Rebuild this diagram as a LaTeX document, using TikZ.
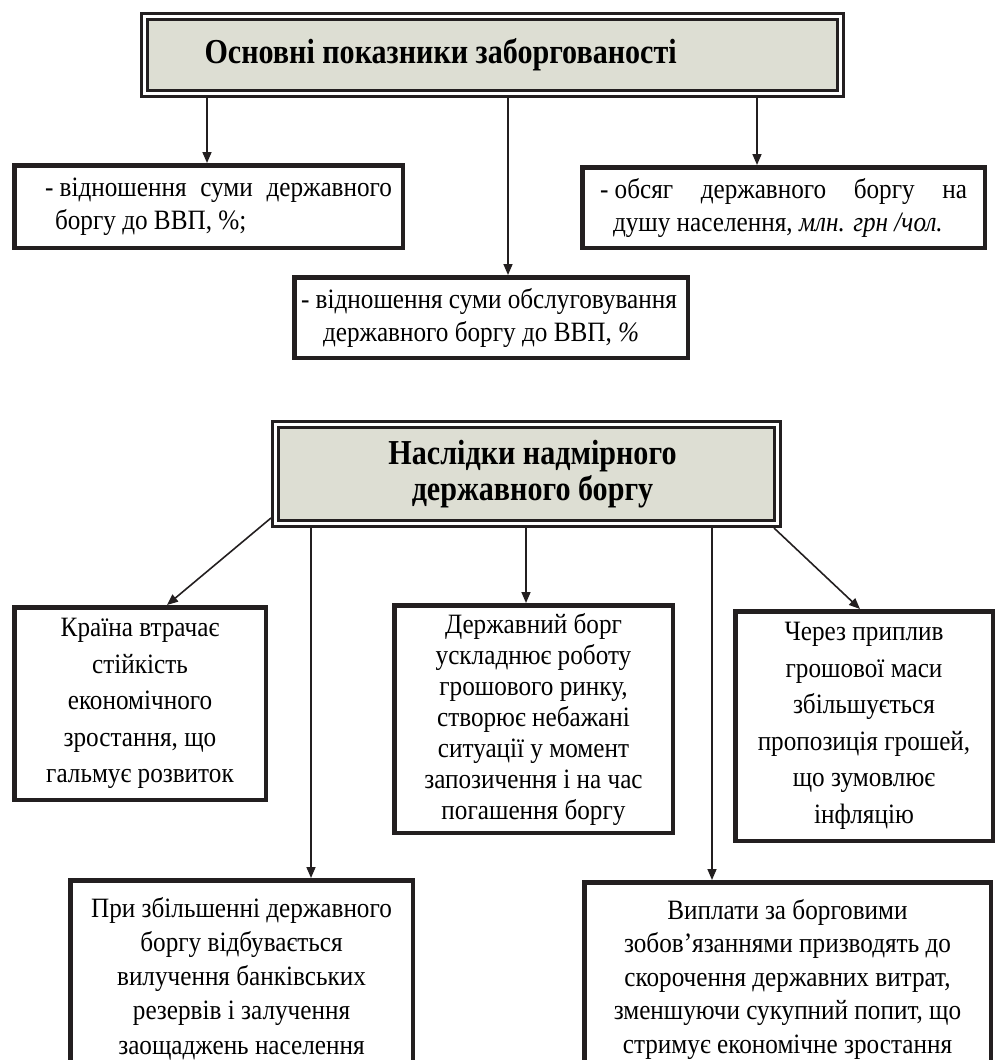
\documentclass[tikz,border=0pt]{standalone}
\usepackage{fontspec}
\setmainfont{Liberation Serif}[FakeStretch=0.9]
\newfontfamily\titlefont{Liberation Serif}[FakeStretch=0.86]
\usetikzlibrary{arrows.meta}
\definecolor{ink}{RGB}{35,31,32}
\definecolor{titlefill}{RGB}{221,222,211}
\begin{document}
\begin{tikzpicture}[x=1pt,y=-1pt,
  every node/.style={execute at begin node={\spaceskip=0pt\xspaceskip=0pt}},
  titlebox/.style={draw=ink, line width=3pt, double=white, double distance=3pt,
    fill=titlefill, outer sep=4.5pt, inner sep=0pt, anchor=north west,
    font=\titlefont\fontsize{35}{36}\selectfont\bfseries},
  box/.style={draw=ink, line width=4.5pt, fill=white, inner sep=0pt,
    anchor=north west, align=center},
  arr/.style={draw=ink, line width=1.6pt, -{Triangle[length=11pt,width=9pt]}}]
\path[use as bounding box, clip] (0,0) rectangle (999,1060);

% ---------- top part ----------
\node[titlebox, minimum width=696pt, minimum height=77pt, text width=656pt, align=left]
  (t1) at (140,12) {\hspace*{40pt}Основні показники заборгованості};

\node[box, minimum width=388.5pt, minimum height=82.5pt, text width=367pt, align=left,
  font=\fontsize{28}{33}\selectfont] (L1) at (12,163)
  {\hspace*{20pt}\makebox[347pt][l]{- відношення\hfill суми\hfill державного}\\
   \hspace*{30pt}боргу до ВВП, \%;};

\node[box, minimum width=402.5pt, minimum height=80.5pt, text width=367pt, align=left,
  font=\fontsize{28}{33}\selectfont] (R1) at (580,165)
  {\makebox[367pt][l]{- обсяг\hfill державного\hfill боргу\hfill на}\\
   \hspace*{13pt}душу населення, \textit{млн. грн /чол.}};

\node[box, minimum width=393.5pt, minimum height=80.5pt, text width=380pt, align=left,
  font=\fontsize{28}{33}\selectfont] (M1) at (292,275)
  {- відношення суми обслуговування\\
   \hspace*{22pt}державного боргу до ВВП, \textit{\%}};

\coordinate (xL1) at (207,0);
\coordinate (xM1) at (508,0);
\coordinate (xR1) at (757,0);
\draw[arr] (t1.south -| xL1) -- (L1.north -| xL1);
\draw[arr] (t1.south -| xM1) -- (M1.north -| xM1);
\draw[arr] (t1.south -| xR1) -- (R1.north -| xR1);

% ---------- bottom part ----------
\node[titlebox, minimum width=502pt, minimum height=99pt, align=center]
  (t2) at (271,420) {\hspace*{12pt}Наслідки надмірного\\\hspace*{12pt}державного боргу};

\node[box, minimum width=251.5pt, minimum height=192.5pt,
  font=\fontsize{28}{36.5}\selectfont] (A) at (12,605)
  {Країна втрачає\\стійкість\\економічного\\зростання, що\\гальмує розвиток};

\node[box, minimum width=278.5pt, minimum height=227.5pt,
  font=\fontsize{28}{31}\selectfont] (B) at (392,603)
  {Державний борг\\ускладнює роботу\\грошового ринку,\\створює небажані\\ситуації у момент\\запозичення і на час\\погашення боргу};

\node[box, minimum width=257.5pt, minimum height=229.5pt,
  font=\fontsize{28}{36.5}\selectfont] (C) at (733,609)
  {Через приплив\\грошової маси\\збільшується\\пропозиція грошей,\\що зумовлює\\інфляцію};

\node[box, minimum width=342.5pt, minimum height=196.5pt,
  font=\fontsize{28}{34.3}\selectfont] (D) at (68,878)
  {При збільшенні державного\\боргу відбувається\\вилучення банківських\\резервів і залучення\\заощаджень населення};

\node[box, minimum width=406.5pt, minimum height=193.5pt,
  font=\fontsize{28}{33.5}\selectfont] (E) at (582,880)
  {Виплати за борговими\\зобов’язаннями призводять до\\скорочення державних витрат,\\зменшуючи сукупний попит, що\\стримує економічне зростання};

\coordinate (xA) at (167,0);
\coordinate (xD) at (311,0);
\coordinate (xB) at (526,0);
\coordinate (xE) at (712,0);
\coordinate (xC) at (860,0);
\draw[arr] ([yshift=10pt]t2.south west) -- (A.north -| xA);
\draw[arr] (t2.south -| xD) -- (D.north -| xD);
\draw[arr] (t2.south -| xB) -- (B.north -| xB);
\draw[arr] (t2.south -| xE) -- (E.north -| xE);
\draw[arr] ([xshift=-8pt]t2.south east) -- (C.north -| xC);
\end{tikzpicture}
\end{document}
